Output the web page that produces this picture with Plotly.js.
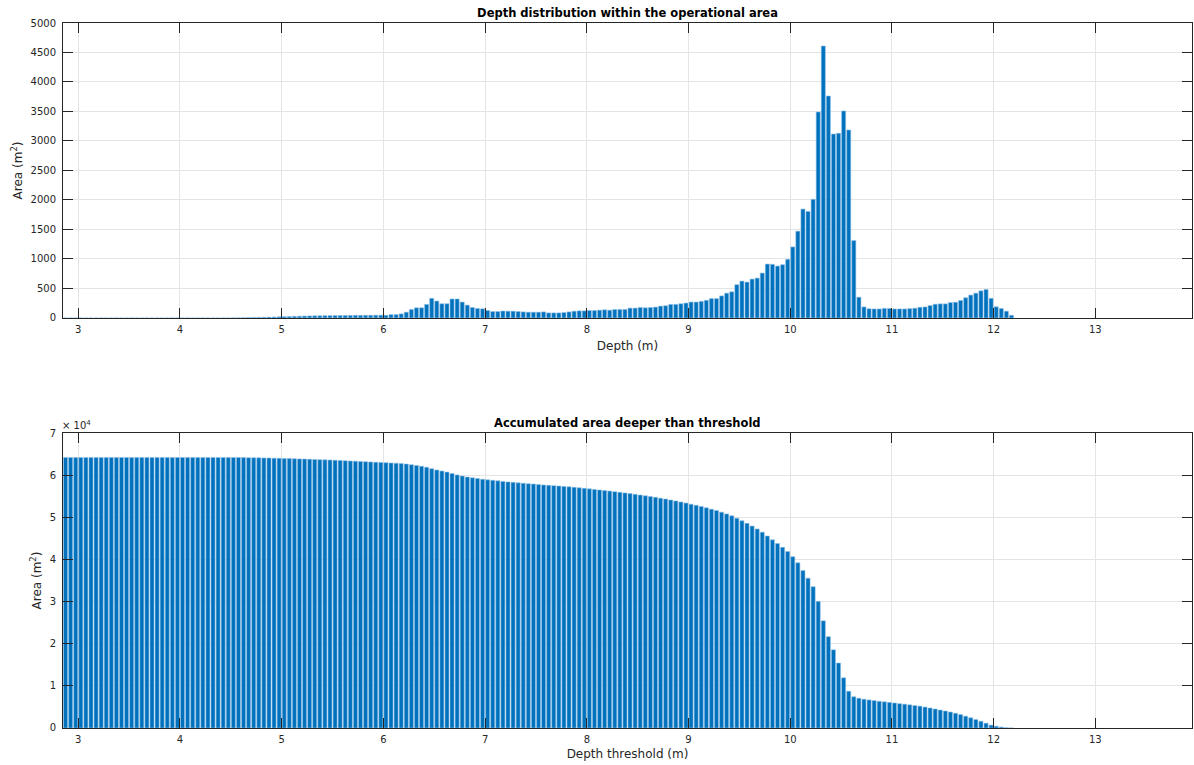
<!DOCTYPE html>
<html>
<head>
<meta charset="utf-8">
<script src="https://cdn.plot.ly/plotly-3.0.1.min.js"></script>
<style>html,body{margin:0;padding:0;background:#fff;}#chart{width:1194px;height:765px;}</style>
</head>
<body>
<div id="chart"></div>
<script>
// Bin centres (m): first centre and bin width
const depthStart = 2.875;
const binWidth = 0.05;

// Area per depth bin (m^2) - top chart
const areaPerBin = [
  0,0,0,0,0,0,0,0,0,0,0,0,0,0,0,0,0,0,0,0,0,0,0,0,0,0,0,0,0,0,0,0,0,
  1,2,
  4,6,8,10,12,15,17,20,22,25,28,30,33,35,37,38,39,40,41,42,43,44,45,45,46,46,47,47,
  46,57,57,69,98,144,172,172,230,333,287,241,241,322,322,270,218,178,161,155,126,109,109,118,
  115,115,109,103,98,98,98,103,86,86,86,92,103,115,120,120,126,126,132,138,132,144,144,144,
  167,167,178,172,178,184,201,207,230,230,241,253,270,270,282,299,328,328,374,420,443,564,625,608,
  659,676,761,914,909,880,903,994,1204,1471,1846,1806,2011,3492,4610,3763,3119,3130,3509,3187,1312,
  352,187,156,153,153,162,160,153,153,153,159,165,182,187,210,233,239,239,261,267,297,343,388,420,460,483,333,190,161,115,46
];

// Accumulated area deeper than threshold (m^2) - bottom chart
const areaDeeper = [
  64200,64200,64200,64200,64200,64200,64200,64200,64200,64200,64200,64200,64200,64200,64200,64200,64200,
  64200,64200,64200,64200,64200,64200,64200,64200,64200,64200,64200,64200,64200,64200,64200,64200,
  64190,64180,64165,64150,64130,64110,64085,64060,64030,64000,63970,63935,63900,63860,63820,63775,
  63730,63685,63640,63590,63540,63485,63430,63375,63320,63260,63200,63140,63080,63020,
  62963,62895,62827,62747,62638,62483,62300,62117,61876,61532,61234,60982,60730,60397,60064,59783,
  59554,59365,59193,59027,58890,58770,58650,58521,
  58406,58291,58182,58079,57981,57883,57785,57682,57596,57510,57424,57332,57229,57114,56994,56874,
  56748,56622,56490,56352,56220,56076,55932,55788,55621,55454,55276,55104,54926,54742,54541,54334,54104,53874,53633,53380,
  53110,52840,52558,52259,51931,51603,51229,50809,50366,49802,49177,48569,47910,47234,46473,45559,44650,43770,42867,41873,
  40669,39198,37352,35546,33535,30043,25433,21670,18551,15421,11912,8725,7413,7061,
  6830,6660,6500,6340,6220,6080,5930,5770,5650,5500,5320,5180,4970,4750,4510,4270,4030,3790,3500,3180,
  2800,2430,2000,1600,1140,680,420,220,60,0
];

const xTicks = [3,4,5,6,7,8,9,10,11,12,13];
const yTopTicks = [0,500,1000,1500,2000,2500,3000,3500,4000,4500,5000];
const yBotTicks = [0,10000,20000,30000,40000,50000,60000,70000];
const yBotTickText = ['0','1','2','3','4','5','6','7'];

const depth = areaPerBin.map((_, i) => +(depthStart + i * binWidth).toFixed(3));

const barColor = '#0072BD';
const edgeColor = '#8fc0e8';
const txt = '#262626';
const font = 'DejaVu Sans, Liberation Sans, sans-serif';

const traces = [
  {type:'bar', x: depth, y: areaPerBin, xaxis:'x', yaxis:'y', width: binWidth*0.8,
   marker:{color: barColor, line:{color: edgeColor, width:0.6}}, hoverinfo:'x+y'},
  {type:'bar', x: depth, y: areaDeeper, xaxis:'x2', yaxis:'y2', width: binWidth*0.8,
   marker:{color: barColor, line:{color: edgeColor, width:0.6}}, hoverinfo:'x+y'}
];

const axCommon = {
  showline:true, mirror:'allticks', linecolor:txt, linewidth:1,
  ticks:'inside', ticklen:10, tickwidth:1, tickcolor:txt,
  showgrid:true, gridcolor:'#e4e4e4', gridwidth:1, zeroline:false,
  tickfont:{family:font, size:10, color:txt}
};

const layout = {
  width:1194, height:765,
  margin:{l:63, r:2, t:23, b:37},
  paper_bgcolor:'#fff', plot_bgcolor:'#fff',
  showlegend:false, bargap:0.2,
  title:{text:'<b>Depth distribution within the operational area</b>', font:{family:font, size:11.5, color:'#000'},
         x:0.5, xref:'paper', xanchor:'center', y:1, yref:'paper', yanchor:'bottom', pad:{b:6}},
  xaxis: Object.assign({}, axCommon, {domain:[0,1], anchor:'y', range:[2.85,13.95], tickvals:xTicks,
         ticklabelstandoff:2,
         title:{text:'Depth (m)', font:{family:font, size:12, color:txt}, standoff:7}}),
  yaxis: Object.assign({}, axCommon, {domain:[0.5816,1], anchor:'x', range:[0,5000], tickvals:yTopTicks,
         ticklabelstandoff:4,
         title:{text:'Area (m<sup>2</sup>)', font:{family:font, size:12, color:txt}, standoff:5}}),
  xaxis2: Object.assign({}, axCommon, {domain:[0,1], anchor:'y2', range:[2.85,13.95], tickvals:xTicks,
         ticklabelstandoff:2,
         title:{text:'Depth threshold (m)', font:{family:font, size:12, color:txt}, standoff:5}}),
  yaxis2: Object.assign({}, axCommon, {domain:[0,0.4184], anchor:'x2', range:[0,70000], tickvals:yBotTicks,
         ticktext:yBotTickText, ticklabelstandoff:4,
         title:{text:'Area (m<sup>2</sup>)', font:{family:font, size:12, color:txt}, standoff:5}}),
  annotations:[
    {text:'<b>Accumulated area deeper than threshold</b>', xref:'paper', yref:'paper', x:0.5, y:0.4184,
     xanchor:'center', yanchor:'bottom', yshift:1, showarrow:false, font:{family:font, size:11.5, color:'#000'}},
    {text:'× 10<sup>4</sup>', xref:'paper', yref:'paper', x:0, y:0.4184, xanchor:'left', yanchor:'bottom',
     yshift:0, xshift:-3, showarrow:false, font:{family:font, size:10, color:txt}}
  ]
};

Plotly.newPlot('chart', traces, layout, {displayModeBar:false, staticPlot:true});
</script>
</body>
</html>
